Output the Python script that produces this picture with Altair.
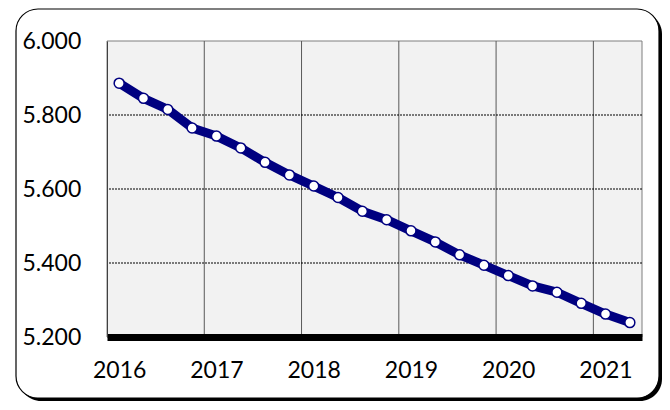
import altair as alt
import pandas as pd

# ---- data ----
years = [2016, 2017, 2018, 2019, 2020, 2021]
quarters = [1, 2, 3, 4]
values = [5886, 5845, 5815, 5765,
          5743, 5711, 5672, 5638,
          5608, 5577, 5540, 5517,
          5487, 5457, 5422, 5394,
          5366, 5338, 5321, 5291,
          5262, 5239]
y_ticks = [5200, 5400, 5600, 5800, 6000]

periods = [(y, q) for y in years for q in quarters][:len(values)]
df = pd.DataFrame({
    "year": [p[0] for p in periods],
    "q": [p[1] for p in periods],
    "value": values,
})
df["t"] = df["year"] + (df["q"] - 0.5) / 4

W, H = 535, 296
FONT = "Lato"
NAVY = "#000080"

x_scale = alt.Scale(domain=[years[0], years[-1] + 0.5], nice=False, zero=False)
y_scale = alt.Scale(domain=[y_ticks[0], y_ticks[-1]], nice=False, zero=False)

one = alt.Data(values=[{}])

shadow = alt.Chart(one).mark_rect(fill="black", cornerRadius=22).encode(
    x=alt.value(-88), x2=alt.value(W + 20), y=alt.value(-29), y2=alt.value(H + 64)
)
frame = alt.Chart(one).mark_rect(fill="white", stroke="black", strokeWidth=1.2,
                                  cornerRadius=22).encode(
    x=alt.value(-91), x2=alt.value(W + 17), y=alt.value(-32), y2=alt.value(H + 61)
)
plotbg = alt.Chart(one).mark_rect(fill="#F2F2F2", stroke="#7F7F7F", strokeWidth=1).encode(
    x=alt.value(0), x2=alt.value(W), y=alt.value(0), y2=alt.value(H)
)

vrules = alt.Chart(pd.DataFrame({"year": years[1:]})).mark_rule(
    color="#595959", strokeWidth=1
).encode(x=alt.X("year:Q", scale=x_scale))

hrules = alt.Chart(pd.DataFrame({"v": y_ticks})).transform_filter(
    f"datum.v > {y_ticks[0]} && datum.v < {y_ticks[-1]}"
).mark_rule(color="black", strokeWidth=1, strokeDash=[2, 1]).encode(
    y=alt.Y("v:Q", scale=y_scale)
)

base = alt.Chart(df).encode(
    x=alt.X("t:Q", scale=x_scale, title=None,
            axis=alt.Axis(values=[y + 0.125 for y in years],
                          labelExpr="floor(datum.value)",
                          grid=False, ticks=False, tickSize=0,
                          domainColor="black", domainWidth=7,
                          labelFont=FONT, labelFontSize=23, labelColor="black",
                          labelBaseline="middle", labelPadding=33,
                          labelFlush=False, zindex=1)),
    y=alt.Y("value:Q", scale=y_scale, title=None,
            axis=alt.Axis(values=y_ticks,
                          labelExpr="replace(format(datum.value, ','), ',', '.')",
                          grid=False, ticks=False, tickSize=0,
                          domainColor="#404040", domainWidth=1,
                          labelFont=FONT, labelFontSize=23, labelColor="black",
                          labelAlign="left", labelPadding=85,
                          labelFlush=False, zindex=1)),
)

line = base.mark_line(color=NAVY, strokeWidth=9, strokeJoin="round")
pts = base.mark_point(shape="circle", filled=True, fill="white", stroke=NAVY,
                      strokeWidth=1.5, size=100, opacity=1)

chart = alt.layer(shadow, frame, plotbg, vrules, hrules, line, pts).properties(
    width=W, height=H,
    padding={"left": 99, "top": 33, "right": 20, "bottom": 65},
    autosize="none",
).configure_view(stroke=None, fill=None)

chart.save("out.html", embed_options={"renderer": "svg", "actions": False})
